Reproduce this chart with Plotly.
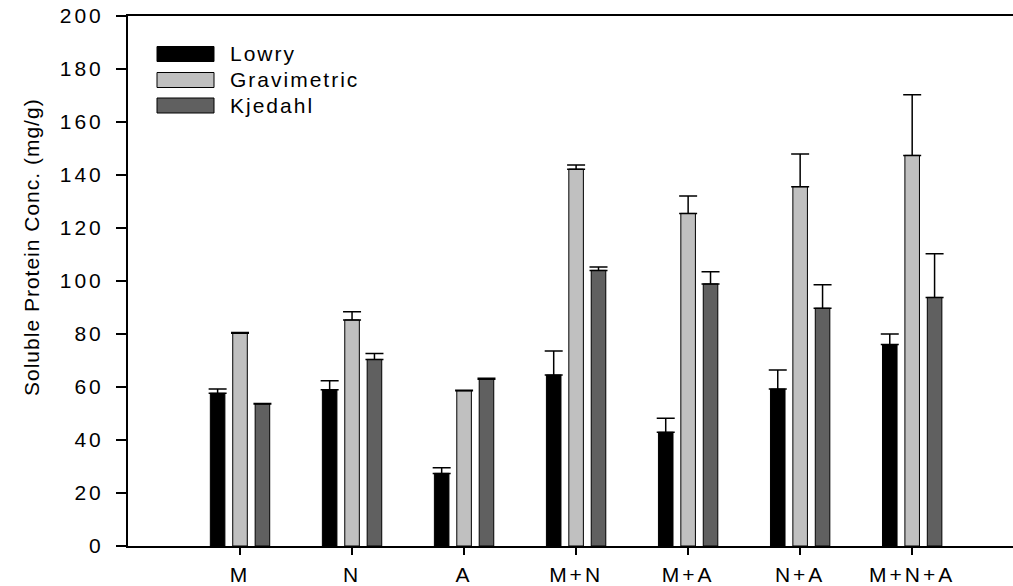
import plotly.graph_objects as go

# ---- data ----
categories = ["M", "N", "A", "M+N", "M+A", "N+A", "M+N+A"]
series_names = ["Lowry", "Gravimetric", "Kjedahl"]

lowry = [57.6, 59.0, 27.4, 64.5, 42.9, 59.2, 76.0]
lowry_err = [1.6, 3.4, 2.1, 9.1, 5.3, 7.2, 4.0]

gravimetric = [80.3, 85.3, 58.6, 142.2, 125.5, 135.6, 147.4]
gravimetric_err = [0.3, 3.1, 0.2, 1.6, 6.6, 12.3, 22.9]

kjedahl = [53.6, 70.4, 62.9, 104.0, 98.9, 89.7, 93.8]
kjedahl_err = [0.2, 2.2, 0.4, 1.3, 4.6, 8.9, 16.5]

y_tick_values = [0, 20, 40, 60, 80, 100, 120, 140, 160, 180, 200]
y_title = "Soluble Protein Conc. (mg/g)"

# ---- styling ----
colors = ["#000000", "#c0c0c0", "#606060"]
FONT = "Liberation Sans, Arial, Helvetica, sans-serif"
FS = 21

values = [lowry, gravimetric, kjedahl]
errors = [lowry_err, gravimetric_err, kjedahl_err]
xpos = list(range(len(categories)))

fig = go.Figure()
for name, vals, errs, col in zip(series_names, values, errors, colors):
    fig.add_trace(go.Bar(
        x=xpos, y=vals, name=name,
        marker=dict(color=col, line=dict(color="#000000", width=1)),
        error_y=dict(type="data", array=errs, arrayminus=[0] * len(errs),
                     symmetric=False, color="#000000", thickness=1.5, width=9),
        showlegend=False,
    ))

# manual legend (wide swatches like the reference)
L, R, T, B = 128, 1013, 16, 546
W, H = R - L, B - T


def px_x(p):
    return (p - L) / W


def px_y(p):
    return (B - p) / H


leg_rows = [54, 80, 105.5]
for name, col, cy in zip(series_names, colors, leg_rows):
    fig.add_shape(type="rect", xref="paper", yref="paper",
                  x0=px_x(157), x1=px_x(214), y0=px_y(cy - 7.5), y1=px_y(cy + 7.5),
                  fillcolor=col, line=dict(color="#000000", width=1))
    fig.add_annotation(xref="paper", yref="paper", x=px_x(228), y=px_y(cy),
                       xanchor="left", yanchor="middle", align="left",
                       text=name, showarrow=False,
                       font=dict(family=FONT, size=FS, color="#000000"))

fig.add_annotation(xref="paper", yref="paper", x=px_x(31), y=px_y(247),
                   xanchor="center", yanchor="middle", textangle=-90,
                   text=y_title, showarrow=False,
                   font=dict(family=FONT, size=FS, color="#000000"))

fig.update_layout(
    width=1013, height=586,
    margin=dict(l=L, r=1013 - R, t=T, b=586 - B),
    paper_bgcolor="white", plot_bgcolor="white",
    barmode="group", bargap=0.4, bargroupgap=0.35,
    font=dict(family=FONT, size=FS, color="#000000"),
    xaxis=dict(
        tickmode="array", tickvals=xpos, ticktext=categories,
        range=[-1.0, 6.9], showgrid=False, zeroline=False,
        showline=True, linecolor="#000000", linewidth=2, mirror=True,
        ticks="outside", ticklen=7, tickwidth=1.5, tickcolor="#000000",
        ticklabelstandoff=2,
        tickfont=dict(family=FONT, size=FS, color="#000000"),
    ),
    yaxis=dict(
        range=[0, 200], tickvals=y_tick_values, showgrid=False, zeroline=False,
        showline=True, linecolor="#000000", linewidth=2,
        ticks="outside", ticklen=10, tickwidth=1.5, tickcolor="#000000",
        ticklabelstandoff=8,
        tickfont=dict(family=FONT, size=FS, color="#000000"),
    ),
)

post = ("var s=document.createElement('style');"
        "s.textContent='.xtick text,.ytick text{letter-spacing:3px;}"
        ".annotation text{letter-spacing:2px;}"
        ".annotation[data-index=\"3\"] text{letter-spacing:1px;}';"
        "document.head.appendChild(s);")
fig.write_html("out.html", post_script=post)
